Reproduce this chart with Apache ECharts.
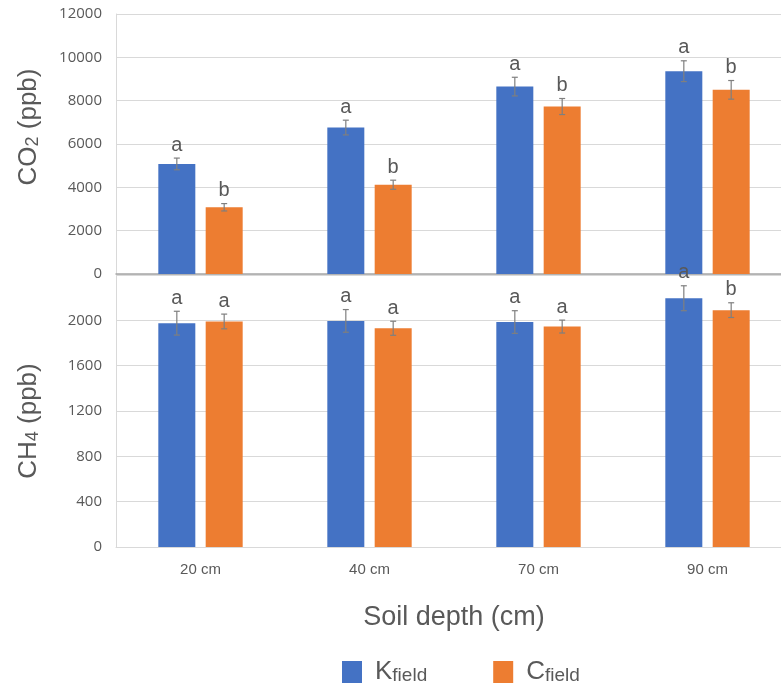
<!DOCTYPE html>
<html>
<head>
<meta charset="utf-8">
<script src="https://cdn.jsdelivr.net/npm/echarts@6/dist/echarts.min.js"></script>
<style>
  html, body { margin: 0; padding: 0; background: #fff; }
  #chart { width: 781px; height: 687px; }
</style>
</head>
<body>
<div id="chart"></div>
<script>
// categories
var depths = ['20 cm', '40 cm', '70 cm', '90 cm'];

// CO2 (ppb)
var co2K = [5080, 6760, 8650, 9360];
var co2KErr = [270, 340, 430, 480];
var co2C = [3080, 4120, 7730, 8500];
var co2CErr = [170, 210, 370, 430];
var co2KLetters = ['a', 'a', 'a', 'a'];
var co2CLetters = ['b', 'b', 'b', 'b'];

// CH4 (ppb)
var ch4K = [1975, 1995, 1985, 2195];
var ch4KErr = [105, 100, 100, 110];
var ch4C = [1990, 1930, 1945, 2090];
var ch4CErr = [65, 62, 57, 65];
var ch4KLetters = ['a', 'a', 'a', 'a'];
var ch4CLetters = ['a', 'a', 'a', 'b'];

var BLUE = '#4472c4';
var ORANGE = '#ed7d31';
var TXT = '#595959';
var FONT = "'Liberation Sans', Arial, sans-serif";
var BAR_W = 37;
var BAR_GAP = 0.28;
var SHIFT = BAR_W * (1 + BAR_GAP) / 2; // 柱中心相对类目中心的偏移

var chart = echarts.init(document.getElementById('chart'));

function errData(vals, errs) {
    return vals.map(function (v, i) { return [i, v, errs[i]]; });
}

// 误差线 + 显著性字母
function errRender(letters, side) {
    return function (params, api) {
        var i = api.value(0), m = api.value(1), e = api.value(2);
        var hi = api.coord([i, m + e]);
        var lo = api.coord([i, m - e]);
        var x = hi[0] + side * SHIFT;
        var st = { stroke: '#7f7f7f', lineWidth: 1.2 };
        return {
            type: 'group',
            children: [
                { type: 'line', shape: { x1: x, y1: hi[1], x2: x, y2: lo[1] }, style: st },
                { type: 'line', shape: { x1: x - 3, y1: hi[1], x2: x + 3, y2: hi[1] }, style: st },
                { type: 'line', shape: { x1: x - 3, y1: lo[1], x2: x + 3, y2: lo[1] }, style: st },
                {
                    type: 'text', x: x, y: hi[1] - 3,
                    style: {
                        text: letters[params.dataIndex], align: 'center', verticalAlign: 'bottom',
                        fontSize: 20, fontFamily: FONT, fill: TXT
                    }
                }
            ]
        };
    };
}

var yLabel = {
    color: TXT, fontSize: 15, fontFamily: "'Open Sans', sans-serif", margin: 14,
    formatter: function (v) { return String(v); }
};
var nameStyle = {
    color: TXT, fontSize: 26, fontFamily: FONT,
    rich: { s: { color: TXT, fontSize: 18, fontFamily: FONT, verticalAlign: 'bottom' } }
};

var option = {
    animation: false,
    backgroundColor: '#fff',
    grid: [
        { left: 116, width: 676, top: 14, height: 260, outerBoundsMode: 'none' },
        { left: 116, width: 676, top: 275, height: 272, outerBoundsMode: 'none' }
    ],
    legend: {
        left: 337, top: 654,
        itemWidth: 20, itemHeight: 22, itemGap: 66,
        icon: 'rect',
        data: ['Kfield', 'Cfield'],
        formatter: function (name) {
            return '{b|' + name.charAt(0) + '}{s|field}';
        },
        textStyle: {
            rich: {
                b: { fontSize: 26, color: TXT, fontFamily: FONT, padding: [0, 0, 0, 8], verticalAlign: 'bottom' },
                s: { fontSize: 19, color: TXT, fontFamily: FONT, verticalAlign: 'bottom' }
            }
        }
    },
    xAxis: [
        {
            type: 'category', gridIndex: 0, data: depths,
            axisLine: { lineStyle: { color: '#a6a6a6', width: 1.5 } },
            axisTick: { show: false }, axisLabel: { show: false }
        },
        {
            type: 'category', gridIndex: 1, data: depths,
            axisLine: { lineStyle: { color: '#d9d9d9' } },
            axisTick: { show: false },
            axisLabel: { color: TXT, fontSize: 15, fontFamily: FONT, margin: 15 },
            name: 'Soil depth (cm)', nameLocation: 'middle', nameGap: 57,
            nameTextStyle: { color: TXT, fontSize: 27, fontFamily: FONT }
        }
    ],
    yAxis: [
        {
            type: 'value', gridIndex: 0, min: 0, max: 12000, interval: 2000,
            axisLine: { show: true, lineStyle: { color: '#d9d9d9' } },
            splitLine: { lineStyle: { color: '#d9d9d9' } },
            axisLabel: yLabel,
            name: 'CO{s|2} (ppb)', nameLocation: 'middle', nameGap: 74,
            nameTextStyle: Object.assign({}, nameStyle, { padding: [0, 0, 0, 34] })
        },
        {
            type: 'value', gridIndex: 1, min: 0, max: 2400, interval: 400,
            axisLine: { show: true, lineStyle: { color: '#d9d9d9' } },
            splitLine: { lineStyle: { color: '#d9d9d9' } },
            axisLabel: Object.assign({}, yLabel, {
                formatter: function (v) { return v === 2400 ? '' : String(v); }
            }),
            name: 'CH{s|4} (ppb)', nameLocation: 'middle', nameGap: 74,
            nameTextStyle: Object.assign({}, nameStyle, { padding: [0, 20, 0, 0] })
        }
    ],
    series: [
        { name: 'Kfield', type: 'bar', xAxisIndex: 0, yAxisIndex: 0, data: co2K, barWidth: BAR_W, barGap: '28%', itemStyle: { color: BLUE } },
        { name: 'Cfield', type: 'bar', xAxisIndex: 0, yAxisIndex: 0, data: co2C, barWidth: BAR_W, barGap: '28%', itemStyle: { color: ORANGE } },
        { name: 'Kfield', type: 'bar', xAxisIndex: 1, yAxisIndex: 1, data: ch4K, barWidth: BAR_W, barGap: '28%', itemStyle: { color: BLUE } },
        { name: 'Cfield', type: 'bar', xAxisIndex: 1, yAxisIndex: 1, data: ch4C, barWidth: BAR_W, barGap: '28%', itemStyle: { color: ORANGE } },
        { type: 'custom', xAxisIndex: 0, yAxisIndex: 0, data: errData(co2K, co2KErr), renderItem: errRender(co2KLetters, -1), z: 5, clip: false },
        { type: 'custom', xAxisIndex: 0, yAxisIndex: 0, data: errData(co2C, co2CErr), renderItem: errRender(co2CLetters, 1), z: 5, clip: false },
        { type: 'custom', xAxisIndex: 1, yAxisIndex: 1, data: errData(ch4K, ch4KErr), renderItem: errRender(ch4KLetters, -1), z: 5, clip: false },
        { type: 'custom', xAxisIndex: 1, yAxisIndex: 1, data: errData(ch4C, ch4CErr), renderItem: errRender(ch4CLetters, 1), z: 5, clip: false }
    ]
};

chart.setOption(option);
</script>
</body>
</html>
